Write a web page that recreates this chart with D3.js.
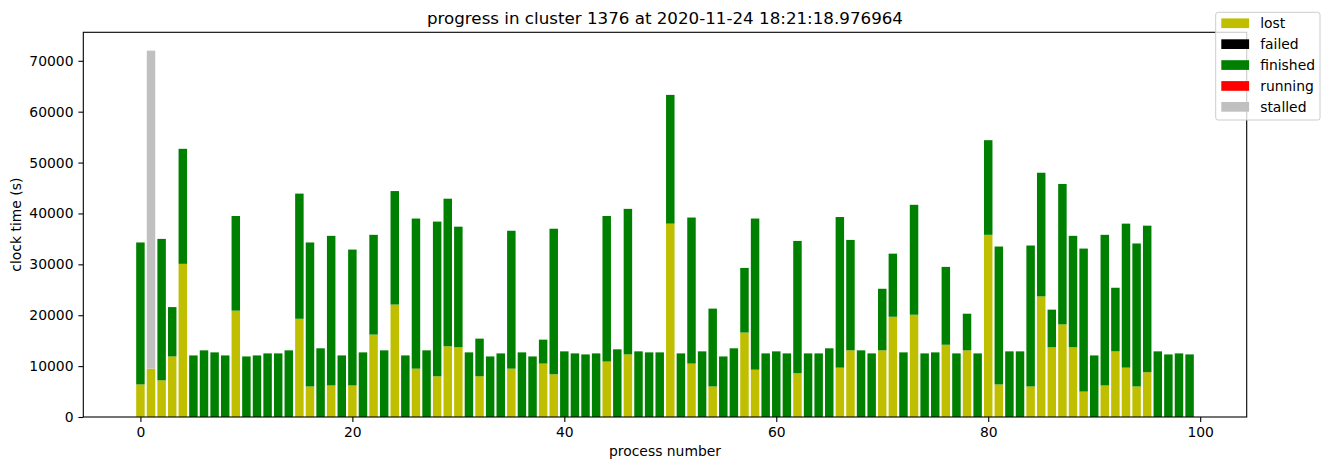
<!DOCTYPE html>
<html lang="en">
<head>
	<meta charset="utf-8">
	<title>progress in cluster</title>
	<script src="https://d3js.org/d3.v7.min.js"></script>
	<style type="text/css">
		body {
			margin: 0;
			background: white;
		}
		svg text {
			font-family: "DejaVu Sans", sans-serif;
			fill: black;
		}
	</style>
</head>
<body>
	<svg id="chart-svg"></svg>

	<script type="text/javascript">
		// Data -------------------
		let titleText = 'progress in cluster 1376 at 2020-11-24 18:21:18.976964'
		let xTicks = [0, 20, 40, 60, 80, 100]
		let yTicks = [0, 10000, 20000, 30000, 40000, 50000, 60000, 70000]
		let statusNames = ['lost', 'failed', 'finished', 'running', 'stalled']
		let statusColors = ['#bfbf00', '#000000', '#008000', '#ff0000', '#c0c0c0']

		let lost = [6400, 9500, 7200, 11900, 30100, 0, 0, 0, 0, 20900,
			0, 0, 0, 0, 0, 19300, 6000, 0, 6200, 0,
			6200, 0, 16200, 0, 22100, 0, 9500, 0, 8000, 13900,
			13700, 0, 8000, 0, 0, 9500, 0, 0, 10500, 8400,
			0, 0, 0, 0, 10900, 0, 12300, 0, 0, 0,
			38000, 0, 10500, 0, 6000, 0, 0, 16600, 9300, 0,
			0, 0, 8600, 0, 0, 0, 9700, 13100, 0, 0,
			13100, 19700, 0, 20100, 0, 0, 14200, 0, 13100, 0,
			35800, 6400, 0, 0, 6000, 23700, 13700, 18200, 13700, 5000,
			0, 6200, 12900, 9700, 6000, 8800, 0, 0, 0, 0]

		let finished = [27900, 0, 27800, 9700, 22600, 12100, 13100, 12700, 12100, 18600,
			11900, 12100, 12500, 12500, 13100, 24600, 28300, 13500, 29400, 12100,
			26700, 12700, 19600, 13100, 22300, 12100, 29500, 13100, 30400, 29000,
			23700, 12700, 7400, 11900, 12500, 27100, 12700, 11900, 4700, 28600,
			12900, 12500, 12300, 12500, 28600, 13300, 28600, 12900, 12700, 12700,
			25300, 12500, 28700, 12900, 15300, 11900, 13500, 12700, 29700, 12500,
			12900, 12500, 26000, 12500, 12500, 13500, 29600, 21700, 13100, 12500,
			12100, 12400, 12700, 21600, 12500, 12700, 15300, 12500, 7200, 12500,
			18600, 27100, 12900, 12900, 27700, 24300, 7400, 27600, 21900, 28100,
			12100, 29600, 12500, 28300, 28100, 28800, 12900, 12300, 12500, 12300]

		// only process 1 has a stalled part
		let stalled = lost.map((d, i) => i === 1 ? 62500 : 0)
		let failed = lost.map(() => 0)
		let running = lost.map(() => 0)

		// Parameters -------------------
		let w = 1330
		let h = 470
		let axLeft = 83.3
		let axRight = 1246.7
		let axTop = 32.3
		let axBottom = 417
		let fontSize = 13.9

		let svg = d3.select('#chart-svg')
			.attr('width', w)
			.attr('height', h)

		let rows = lost.map(function(d, i) {
			return {
				process: i,
				lost: lost[i],
				failed: failed[i],
				finished: finished[i],
				running: running[i],
				stalled: stalled[i]
			}
		})

		let stacked = d3.stack().keys(statusNames)(rows)
		let yMax = d3.max(stacked, (s) => d3.max(s, (d) => d[1]))

		// matplotlib style margins
		let xScale = d3.scaleLinear()
			.domain([-0.4 - 4.99, 99.4 + 4.99])
			.range([axLeft, axRight])

		let yScale = d3.scaleLinear()
			.domain([0, yMax * 1.05])
			.range([axBottom, axTop])

		let cScale = d3.scaleOrdinal()
			.domain(statusNames)
			.range(statusColors)

		// bars
		svg.append('g')
			.selectAll('g')
			.data(stacked)
			.enter()
			.append('g')
			.attr('fill', (d) => cScale(d.key))
			.selectAll('rect')
			.data((d) => d.filter((p) => p[1] > p[0]))
			.enter()
			.append('rect')
			.attr('x', (d) => xScale(d.data.process - 0.4))
			.attr('width', (d) => xScale(0.8) - xScale(0))
			.attr('y', (d) => yScale(d[1]))
			.attr('height', (d) => yScale(d[0]) - yScale(d[1]))

		// axes
		let xAxis = d3.axisBottom(xScale)
			.tickValues(xTicks)
			.tickSizeOuter(0)
			.tickSize(4.9)
			.tickPadding(4.9)
			.tickFormat(d3.format('d'))

		let yAxis = d3.axisLeft(yScale)
			.tickValues(yTicks)
			.tickSizeOuter(0)
			.tickSize(4.9)
			.tickPadding(4.9)
			.tickFormat(d3.format('d'))

		let gx = svg.append('g')
			.attr('transform', 'translate(0,' + axBottom + ')')
			.call(xAxis)
		let gy = svg.append('g')
			.attr('transform', 'translate(' + axLeft + ',0)')
			.call(yAxis)

		for (let g of [gx, gy]) {
			g.select('.domain').remove()
			g.selectAll('line').attr('stroke', 'black').attr('stroke-width', 1.1)
			g.selectAll('text')
				.attr('font-size', fontSize)
				.attr('font-family', '"DejaVu Sans", sans-serif')
				.attr('fill', 'black')
		}

		// frame
		svg.append('rect')
			.attr('x', axLeft)
			.attr('y', axTop)
			.attr('width', axRight - axLeft)
			.attr('height', axBottom - axTop)
			.attr('fill', 'none')
			.attr('stroke', 'black')
			.attr('stroke-width', 1.1)

		// labels
		svg.append('text')
			.attr('x', (axLeft + axRight) / 2)
			.attr('y', axTop - 8.3)
			.attr('text-anchor', 'middle')
			.attr('font-size', 16.7)
			.text(titleText)

		svg.append('text')
			.attr('x', (axLeft + axRight) / 2)
			.attr('y', 456)
			.attr('text-anchor', 'middle')
			.attr('font-size', fontSize)
			.text('process number')

		svg.append('text')
			.attr('transform', 'translate(20.5,' + ((axTop + axBottom) / 2) + ') rotate(-90)')
			.attr('text-anchor', 'middle')
			.attr('font-size', fontSize)
			.text('clock time (s)')

		// legend
		let legend = svg.append('g')
		legend.append('rect')
			.attr('x', 1215.7)
			.attr('y', 12.3)
			.attr('width', 104.3)
			.attr('height', 107.7)
			.attr('rx', 2.5)
			.attr('fill', 'white')
			.attr('fill-opacity', 0.8)
			.attr('stroke', '#cccccc')
			.attr('stroke-width', 1)

		let items = legend.selectAll('g.item')
			.data(statusNames)
			.enter()
			.append('g')
			.attr('class', 'item')
			.attr('transform', (d, i) => 'translate(0,' + (23.3 + i * 20.9) + ')')

		items.append('rect')
			.attr('x', 1221.3)
			.attr('y', -4.9)
			.attr('width', 27.8)
			.attr('height', 9.7)
			.attr('fill', (d) => cScale(d))

		items.append('text')
			.attr('x', 1260.2)
			.attr('y', 0)
			.attr('dy', '0.35em')
			.attr('font-size', fontSize)
			.text((d) => d)
	</script>
</body>
</html>
